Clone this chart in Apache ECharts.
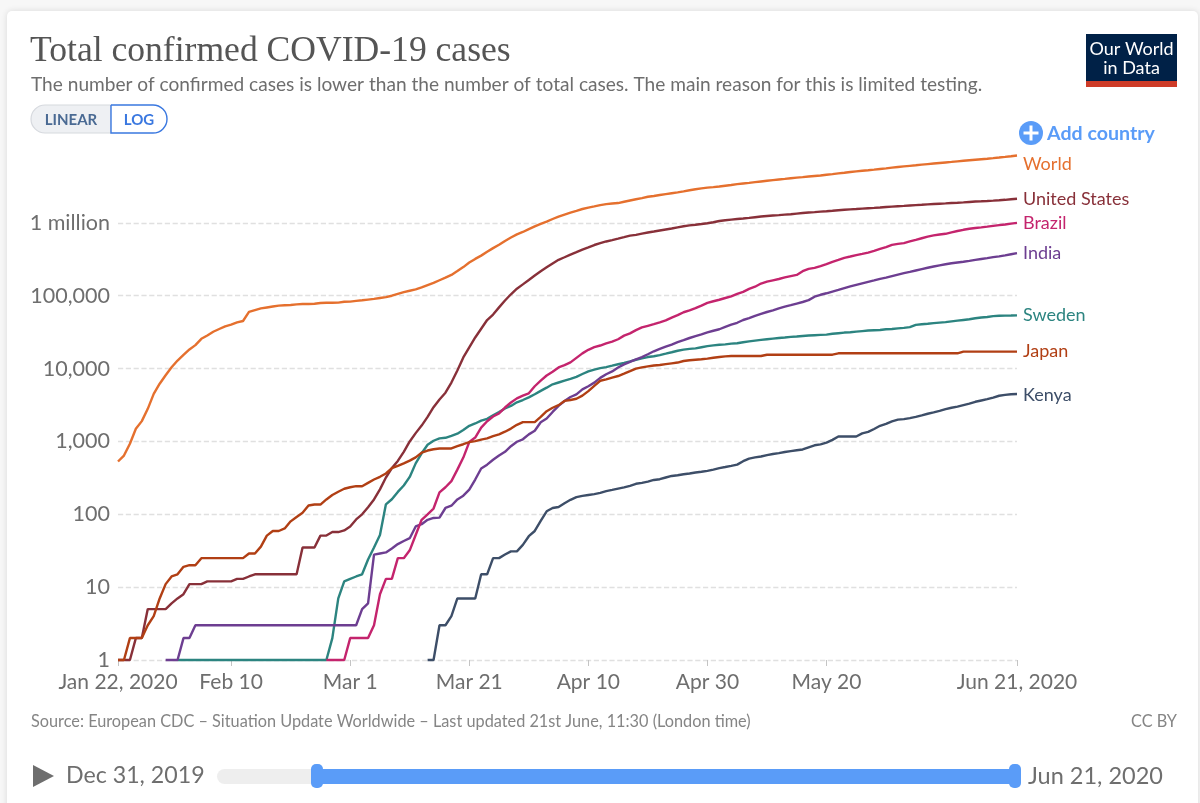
<!DOCTYPE html>
<html>
<head>
<meta charset="utf-8">
<style>
html, body { margin: 0; padding: 0; background: #f7f7f7; }
#chart { width: 1200px; height: 803px; }
</style>
<script src="https://cdn.jsdelivr.net/npm/echarts@6/dist/echarts.min.js"></script>
</head>
<body>
<div id="chart"></div>
<script>
// one entry per day, Jan 22 to Jun 21 2020
var dates = [];
for (var d = new Date(Date.UTC(2020, 0, 22)); d <= new Date(Date.UTC(2020, 5, 21)); d.setUTCDate(d.getUTCDate() + 1)) {
    dates.push(d.toISOString().slice(0, 10));
}

var tickLabels = {
    '2020-01-22': 'Jan 22, 2020',
    '2020-02-10': 'Feb 10',
    '2020-03-01': 'Mar 1',
    '2020-03-21': 'Mar 21',
    '2020-04-10': 'Apr 10',
    '2020-04-30': 'Apr 30',
    '2020-05-20': 'May 20',
    '2020-06-21': 'Jun 21, 2020'
};

var _ = null;

// rows below are Jan, Feb, Mar, Apr, May, Jun
var world = [
    530, 640, 930, 1490, 1900, 2800, 4500, 6200, 8100, 10400,
    12900, 15400, 18300, 21000, 25600, 28500, 32000, 34900, 38000, 40000, 43000, 45000, 60000, 63500, 67000, 69000, 71000, 73000, 74000, 74500, 76000, 76800, 76800, 77600, 79300, 80000, 80000, 80300, 82500,
    83000, 85000, 86500, 88500, 90500, 93000, 95500, 100000, 106000, 112000, 117000, 122000, 130000, 140000, 150000, 163000, 177000, 193000, 218000, 247000, 285000, 320000, 355000, 400000, 450000, 500000, 565000, 630000, 695000, 750000, 820000,
    895000, 970000, 1040000, 1130000, 1220000, 1300000, 1380000, 1460000, 1550000, 1620000, 1680000, 1750000, 1810000, 1840000, 1870000, 1950000, 2030000, 2110000, 2190000, 2280000, 2340000, 2410000, 2480000, 2550000, 2620000, 2700000, 2800000, 2890000, 2970000, 3040000,
    3090000, 3150000, 3230000, 3310000, 3400000, 3470000, 3540000, 3620000, 3700000, 3780000, 3860000, 3940000, 4010000, 4090000, 4170000, 4240000, 4320000, 4400000, 4470000, 4570000, 4670000, 4780000, 4880000, 4990000, 5090000, 5190000, 5280000, 5380000, 5490000, 5600000, 5720000,
    5840000, 5950000, 6060000, 6170000, 6290000, 6410000, 6530000, 6640000, 6750000, 6860000, 6990000, 7110000, 7230000, 7350000, 7470000, 7590000, 7730000, 7880000, 8040000, 8210000, 8400000
];

var unitedStates = [
    1, 1, 1, 2, 2, 5, 5, 5, 5, 6,
    7, 8, 11, 11, 11, 12, 12, 12, 12, 12, 13, 13, 14, 15, 15, 15, 15, 15, 15, 15, 15, 35, 35, 35, 51, 51, 57, 57, 60,
    68, 85, 100, 125, 160, 220, 320, 430, 540, 720, 1000, 1300, 1650, 2170, 2950, 3770, 4660, 6420, 9410, 14200, 19600, 26700, 35200, 46400, 55200, 69200, 86000, 104700, 124700, 143000, 164600,
    189600, 216700, 245500, 277200, 311400, 337100, 366700, 396200, 429100, 461400, 496500, 526400, 555300, 580600, 607700, 636400, 667800, 685000, 712000, 736000, 760000, 785000, 810000, 836000, 868000, 897000, 922000, 942000, 964000, 989000,
    1018000, 1060000, 1085000, 1107000, 1128000, 1148000, 1170000, 1195000, 1220000, 1243000, 1260000, 1277000, 1296000, 1315000, 1340000, 1363000, 1386000, 1403000, 1425000, 1444000, 1465000, 1490000, 1512000, 1533000, 1551000, 1570000, 1588000, 1606000, 1627000, 1650000, 1672000,
    1692000, 1711000, 1731000, 1750000, 1770000, 1794000, 1814000, 1832000, 1848000, 1871000, 1891000, 1912000, 1936000, 1961000, 1979000, 1998000, 2020000, 2044000, 2071000, 2105000, 2140000
];

var brazil = [
    _, _, _, _, _, _, _, _, _, _,
    _, _, _, _, _, _, _, _, _, _, _, _, _, _, _, _, _, _, _, _, _, _, _, _, _, 1, 1, 1, 1,
    2, 2, 2, 2, 3, 8, 13, 13, 25, 25, 32, 52, 84, 100, 120, 200, 235, 285, 410, 600, 980, 1130, 1550, 1890, 2200, 2430, 2920, 3420, 3900, 4260, 4580,
    5720, 6840, 8040, 9060, 10360, 11130, 12160, 14030, 16170, 18090, 19640, 20730, 22190, 23430, 25260, 28320, 30430, 33680, 36660, 38650, 40740, 43080, 45760, 50040, 54040, 59320, 63100, 67450, 73240, 79690,
    84000, 88000, 93000, 98000, 106000, 113000, 124000, 133000, 146900, 156100, 162700, 169600, 178200, 186000, 193000, 217000, 233500, 241100, 255400, 271600, 291600, 310100, 330900, 345000, 360000, 374900, 391200, 411800, 438200, 465200, 498400,
    514800, 526400, 555400, 584000, 614900, 645800, 672800, 691800, 707400, 739500, 772400, 802800, 828800, 850500, 867600, 888300, 910000, 930000, 950000, 975000, 998000
];

var india = [
    _, _, _, _, _, _, _, _, 1, 1,
    1, 2, 2, 3, 3, 3, 3, 3, 3, 3, 3, 3, 3, 3, 3, 3, 3, 3, 3, 3, 3, 3, 3, 3, 3, 3, 3, 3, 3,
    3, 3, 5, 6, 28, 29, 30, 34, 39, 43, 47, 68, 73, 84, 89, 90, 122, 131, 160, 180, 218, 300, 425, 480, 560, 640, 720, 860, 990, 1070, 1250,
    1400, 1830, 2060, 2540, 3080, 3590, 4070, 4420, 5190, 5730, 6410, 7450, 8360, 9150, 10360, 11440, 12380, 13390, 14380, 15710, 17270, 18600, 19980, 21390, 23080, 24530, 26280, 27890, 29450, 31320,
    33060, 34660, 37340, 39980, 42530, 46430, 49390, 52990, 56340, 59770, 62870, 67150, 70760, 74220, 78060, 82000, 87000, 97000, 103000, 108000, 114000, 120000, 127000, 134000, 141000, 148000, 155000, 162000, 170000, 177000, 186000,
    195000, 204000, 212000, 222000, 232000, 242000, 252000, 261000, 270000, 279000, 286000, 293000, 301000, 310000, 319000, 328000, 338000, 347000, 358000, 371000, 384000
];

var sweden = [
    _, _, _, _, _, _, _, _, _, _,
    1, 1, 1, 1, 1, 1, 1, 1, 1, 1, 1, 1, 1, 1, 1, 1, 1, 1, 1, 1, 1, 1, 1, 1, 1, 1, 2, 7, 12,
    13, 14, 15, 24, 35, 52, 137, 161, 203, 248, 326, 500, 687, 900, 1022, 1103, 1121, 1196, 1279, 1439, 1639, 1763, 1934, 2046, 2286, 2526, 2840, 3069, 3447, 3700, 4028,
    4435, 4947, 5466, 6078, 6443, 6830, 7206, 7693, 8419, 9141, 9685, 10150, 10480, 10950, 11450, 11930, 12540, 13220, 13820, 14390, 14780, 15320, 16000, 16760, 17570, 18180, 18640, 18930, 19620, 20300,
    20800, 21200, 21500, 22000, 22300, 23000, 23600, 24200, 24800, 25300, 25800, 26300, 26700, 27200, 27500, 28000, 28400, 28700, 29000, 29200, 30000, 30600, 31200, 31500, 32100, 32700, 33300, 33600, 33900, 34600, 35000,
    35600, 36200, 37000, 39800, 40500, 41200, 42000, 42700, 43400, 44500, 45500, 46500, 47500, 49000, 50300, 51000, 52500, 53000, 53300, 53500, 53800
];

var japan = [
    1, 1, 2, 2, 2, 3, 4, 7, 11, 14,
    15, 19, 20, 20, 25, 25, 25, 25, 25, 25, 25, 25, 29, 29, 36, 51, 59, 59, 64, 80, 92, 105, 132, 136, 136, 160, 184, 204, 224,
    235, 243, 243, 270, 300, 327, 363, 430, 463, 500, 545, 605, 700, 750, 780, 800, 800, 800, 860, 915, 980, 1010, 1060, 1100, 1180, 1250, 1360, 1500, 1690, 1840, 1840,
    1840, 2180, 2600, 2900, 3150, 3600, 3700, 3850, 4250, 4900, 5800, 6800, 7100, 7500, 7900, 8500, 9200, 10000, 10400, 10700, 11000, 11200, 11500, 11800, 12100, 12700, 13000, 13200, 13400, 13700,
    14100, 14400, 14700, 14900, 14900, 14900, 14900, 14900, 14900, 15500, 15500, 15500, 15500, 15500, 15500, 15500, 15500, 15500, 15500, 15500, 15500, 16200, 16200, 16200, 16200, 16200, 16200, 16200, 16200, 16200, 16200,
    16200, 16200, 16200, 16200, 16200, 16200, 16200, 16200, 16200, 16200, 16200, 17100, 17100, 17100, 17100, 17100, 17100, 17100, 17100, 17100, 17100
];

var kenya = [
    _, _, _, _, _, _, _, _, _, _,
    _, _, _, _, _, _, _, _, _, _, _, _, _, _, _, _, _, _, _, _, _, _, _, _, _, _, _, _, _,
    _, _, _, _, _, _, _, _, _, _, _, _, _, 1, 1, 3, 3, 4, 7, 7, 7, 7, 15, 15, 25, 25, 28, 31, 31, 38, 50,
    59, 81, 110, 122, 126, 142, 158, 172, 179, 184, 189, 197, 208, 216, 225, 234, 246, 262, 270, 281, 296, 303, 320, 336, 343, 355, 363, 374, 384, 395,
    411, 430, 445, 462, 480, 535, 582, 603, 621, 649, 672, 691, 715, 737, 758, 776, 830, 885, 912, 963, 1050, 1170, 1170, 1170, 1170, 1290, 1350, 1480, 1640, 1745, 1888,
    1990, 2021, 2093, 2170, 2280, 2400, 2500, 2620, 2770, 2900, 3000, 3150, 3300, 3500, 3650, 3800, 4000, 4235, 4350, 4440, 4470
];

var grey = '#6e6e6e';
var blue = '#5a9cf8';

function makeSeries(name, data, color, labelOffset) {
    return {
        name: name,
        type: 'line',
        data: data,
        symbol: 'none',
        clip: false,
        lineStyle: { color: color, width: 2.4 },
        itemStyle: { color: color },
        endLabel: {
            show: true,
            formatter: '{a}',
            color: color,
            fontFamily: 'Lato',
            fontSize: 18,
            distance: 6,
            offset: labelOffset || [0, 0]
        }
    };
}

var chart = echarts.init(document.getElementById('chart'));

chart.setOption({
    animation: false,
    backgroundColor: '#f7f7f7',
    grid: { left: 118, right: 183, top: 150, bottom: 143 },
    xAxis: {
        type: 'category',
        data: dates,
        boundaryGap: false,
        axisLine: { show: false },
        axisTick: {
            length: 6,
            lineStyle: { color: '#c4c4c4' },
            interval: function (i, value) { return value in tickLabels; }
        },
        axisLabel: {
            interval: function (i, value) { return value in tickLabels; },
            formatter: function (value) { return tickLabels[value]; },
            showMaxLabel: true,
            color: grey,
            fontFamily: 'Lato',
            fontSize: 21,
            margin: 12
        },
        splitLine: { show: false }
    },
    yAxis: {
        type: 'log',
        logBase: 10,
        min: 1,
        max: 10000000,
        axisLine: { show: false },
        axisTick: { show: false },
        minorTick: { show: false },
        axisLabel: {
            showMaxLabel: false,
            color: grey,
            fontFamily: 'Lato',
            fontSize: 21.5,
            margin: 8,
            formatter: function (v) {
                return v === 1000000 ? '1 million' : v.toLocaleString('en-US');
            }
        },
        splitLine: {
            show: true,
            showMaxLine: false,
            lineStyle: { color: '#e0e0e0', type: 'dashed', width: 1.3 }
        }
    },
    series: [
        makeSeries('World', world, '#e5702e', [0, 9]),
        makeSeries('United States', unitedStates, '#883039'),
        makeSeries('Sweden', sweden, '#2c8480'),
        makeSeries('Kenya', kenya, '#3d4e68', [0, 1]),
        makeSeries('India', india, '#6d3e91'),
        makeSeries('Brazil', brazil, '#c4246d'),
        makeSeries('Japan', japan, '#b13f14')
    ],
    graphic: [
        // card
        { type: 'rect', z: -10, shape: { x: 7, y: 11, width: 1191, height: 830, r: 5 },
          style: { fill: '#ffffff', shadowBlur: 6, shadowColor: 'rgba(0,0,0,0.12)' } },
        // header
        { type: 'text', style: { x: 30, y: 34, text: 'Total confirmed COVID-19 cases', fill: '#555555',
          font: '35.6px "Liberation Serif"' } },
        { type: 'text', style: { x: 31, y: 75, text: 'The number of confirmed cases is lower than the number of total cases. The main reason for this is limited testing.', fill: grey,
          font: '19.1px Lato' } },
        // logo
        { type: 'rect', shape: { x: 1086, y: 34, width: 91, height: 53 }, style: { fill: '#002147' } },
        { type: 'rect', shape: { x: 1086, y: 81, width: 91, height: 6 }, style: { fill: '#ce3b28' } },
        { type: 'text', style: { x: 1131.5, y: 49, text: 'Our World', fill: '#ffffff', align: 'center', verticalAlign: 'middle', font: '18px Lato' } },
        { type: 'text', style: { x: 1131.5, y: 68, text: 'in Data', fill: '#ffffff', align: 'center', verticalAlign: 'middle', font: '18px Lato' } },
        // scale toggle
        { type: 'rect', shape: { x: 31, y: 105, width: 80, height: 28, r: [14, 0, 0, 14] },
          style: { fill: '#eef0f3', stroke: '#d6d9de', lineWidth: 1.2 } },
        { type: 'rect', shape: { x: 111, y: 105, width: 56, height: 28, r: [0, 14, 14, 0] },
          style: { fill: '#ffffff', stroke: '#3a78e0', lineWidth: 1.4 } },
        { type: 'text', style: { x: 71, y: 120, text: 'LINEAR', fill: '#4a6a93', align: 'center', verticalAlign: 'middle', font: 'bold 15px Lato' } },
        { type: 'text', style: { x: 139, y: 120, text: 'LOG', fill: '#3a78e0', align: 'center', verticalAlign: 'middle', font: 'bold 15px Lato' } },
        // add country
        { type: 'circle', shape: { cx: 1031, cy: 133, r: 12 }, style: { fill: blue } },
        { type: 'rect', shape: { x: 1023.5, y: 131.5, width: 15, height: 3 }, style: { fill: '#ffffff' } },
        { type: 'rect', shape: { x: 1029.5, y: 125.5, width: 3, height: 15 }, style: { fill: '#ffffff' } },
        { type: 'text', style: { x: 1047, y: 134, text: 'Add country', fill: blue, verticalAlign: 'middle', font: 'bold 19.6px Lato' } },
        // footer
        { type: 'text', style: { x: 31, y: 722, text: 'Source: European CDC \u2013 Situation Update Worldwide \u2013 Last updated 21st June, 11:30 (London time)', fill: '#858585', verticalAlign: 'middle', font: '16.3px Lato' } },
        { type: 'text', style: { x: 1177, y: 722, text: 'CC BY', fill: '#858585', align: 'right', verticalAlign: 'middle', font: '16.3px Lato' } },
        // timeline
        { type: 'polygon', shape: { points: [[33, 765], [54, 776], [33, 787]] }, style: { fill: grey } },
        { type: 'text', style: { x: 66, y: 776, text: 'Dec 31, 2019', fill: grey, verticalAlign: 'middle', font: '23.2px Lato' } },
        { type: 'rect', shape: { x: 217, y: 769, width: 798, height: 15, r: 7.5 }, style: { fill: '#eeeeee' } },
        { type: 'rect', shape: { x: 317, y: 769, width: 698, height: 15 }, style: { fill: blue } },
        { type: 'rect', shape: { x: 311, y: 764, width: 12, height: 24, r: 5 }, style: { fill: blue } },
        { type: 'rect', shape: { x: 1009, y: 764, width: 12, height: 24, r: 5 }, style: { fill: blue } },
        { type: 'text', style: { x: 1028, y: 776, text: 'Jun 21, 2020', fill: grey, verticalAlign: 'middle', font: '23.5px Lato' } }
    ]
});
</script>
</body>
</html>
